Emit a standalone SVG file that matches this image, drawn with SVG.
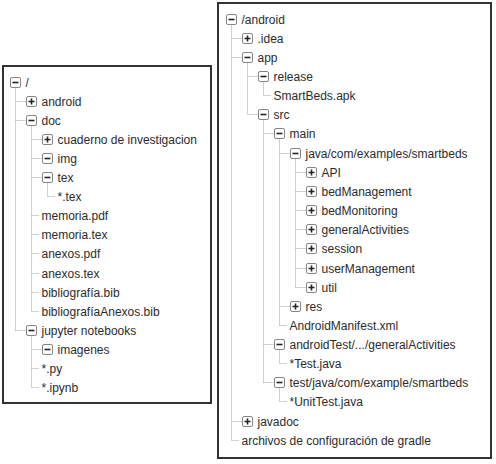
<svg xmlns="http://www.w3.org/2000/svg" xmlns:xlink="http://www.w3.org/1999/xlink" width="496" height="464" viewBox="0 0 496 464">
<style>
.frame{fill:#fff;stroke:#333;stroke-width:2}
.tb{fill:#fff;stroke:#858585;stroke-width:1}
.ts{stroke:#222;stroke-width:1.6;fill:none}
.ln{fill:none;stroke:#a3a3a3;stroke-width:1;stroke-dasharray:1 1}
text{font-family:"Liberation Sans",Arial,sans-serif;font-size:12px;fill:#2b2b2b}
</style>
<defs>
<g id="mn"><rect x="-5" y="-5" width="10" height="10" rx="1.5" class="tb"/><path d="M-3 0H3" class="ts"/></g>
<g id="pl"><rect x="-5" y="-5" width="10" height="10" rx="1.5" class="tb"/><path d="M-3 0H3M0 -3V3" class="ts"/></g>
</defs>
<rect width="496" height="464" fill="#fff"/>
<g id="frame-left"><rect class="frame" x="3" y="66" width="208" height="337"/></g>
<g id="frame-right"><rect class="frame" x="218" y="3" width="273" height="455"/></g>
<g id="connectors">
<path class="ln" d="M15.5 87.5V330.5M15.5 101.5H26.5M15.5 120.5H26.5M15.5 330.5H26.5
M31.5 125.5V311.5M31.5 139.5H42.5M31.5 158.5H42.5M31.5 177.5H42.5M31.5 215.5H39.5M31.5 234.5H39.5M31.5 253.5H39.5M31.5 273.5H39.5M31.5 292.5H39.5M31.5 311.5H39.5
M47.5 182.5V196.5M47.5 196.5H55.5
M31.5 335.5V387.5M31.5 349.5H42.5M31.5 368.5H39.5M31.5 387.5H39.5"/>
<path class="ln" d="M231.5 24.5V440.5M231.5 38.5H242.5M231.5 57.5H242.5M231.5 421.5H242.5M231.5 440.5H239.5
M247.5 62.5V114.5M247.5 76.5H258.5M247.5 114.5H258.5
M263.5 81.5V95.5M263.5 95.5H271.5
M263.5 119.5V382.5M263.5 133.5H274.5M263.5 344.5H274.5M263.5 382.5H274.5
M279.5 138.5V325.5M279.5 153.5H290.5M279.5 306.5H290.5M279.5 325.5H287.5
M295.5 158.5V287.5M295.5 172.5H306.5M295.5 191.5H306.5M295.5 210.5H306.5M295.5 229.5H306.5M295.5 248.5H306.5M295.5 268.5H306.5M295.5 287.5H306.5
M279.5 349.5V363.5M279.5 363.5H287.5
M279.5 387.5V401.5M279.5 401.5H287.5"/>
</g>
<g id="n-root"><use href="#mn" x="15.5" y="82.5"/><text x="25.5" y="86.5">/</text></g>
<g id="n-android"><use href="#pl" x="31.5" y="101.5"/><text x="41.5" y="105.5">android</text></g>
<g id="n-doc"><use href="#mn" x="31.5" y="120.5"/><text x="41.5" y="124.5">doc</text></g>
<g id="n-cuaderno"><use href="#pl" x="47.5" y="139.5"/><text x="57.5" y="143.5">cuaderno de investigacion</text></g>
<g id="n-img"><use href="#mn" x="47.5" y="158.5"/><text x="57.5" y="162.5">img</text></g>
<g id="n-tex"><use href="#mn" x="47.5" y="177.5"/><text x="57.5" y="181.5">tex</text></g>
<g id="n-startex"><text x="57.5" y="200.5">*.tex</text></g>
<g id="n-memoriapdf"><text x="41.5" y="219.5">memoria.pdf</text></g>
<g id="n-memoriatex"><text x="41.5" y="238.5">memoria.tex</text></g>
<g id="n-anexospdf"><text x="41.5" y="257.5">anexos.pdf</text></g>
<g id="n-anexostex"><text x="41.5" y="277.5">anexos.tex</text></g>
<g id="n-bib"><text x="41.5" y="296.5">bibliografía.bib</text></g>
<g id="n-bibanexos"><text x="41.5" y="315.5">bibliografíaAnexos.bib</text></g>
<g id="n-jupyter"><use href="#mn" x="31.5" y="330.5"/><text x="41.5" y="334.5">jupyter notebooks</text></g>
<g id="n-imagenes"><use href="#mn" x="47.5" y="349.5"/><text x="57.5" y="353.5">imagenes</text></g>
<g id="n-py"><text x="41.5" y="372.5">*.py</text></g>
<g id="n-ipynb"><text x="41.5" y="391.5">*.ipynb</text></g>

<g id="r-android"><use href="#mn" x="231.5" y="19.5"/><text x="241.5" y="23.5">/android</text></g>
<g id="r-idea"><use href="#pl" x="247.5" y="38.5"/><text x="257.5" y="42.5">.idea</text></g>
<g id="r-app"><use href="#mn" x="247.5" y="57.5"/><text x="257.5" y="61.5">app</text></g>
<g id="r-release"><use href="#mn" x="263.5" y="76.5"/><text x="273.5" y="80.5">release</text></g>
<g id="r-apk"><text x="273.5" y="99.5">SmartBeds.apk</text></g>
<g id="r-src"><use href="#mn" x="263.5" y="114.5"/><text x="273.5" y="118.5">src</text></g>
<g id="r-main"><use href="#mn" x="279.5" y="133.5"/><text x="289.5" y="137.5">main</text></g>
<g id="r-java"><use href="#mn" x="295.5" y="153.5"/><text x="305.5" y="157.5">java/com/examples/smartbeds</text></g>
<g id="r-api"><use href="#pl" x="311.5" y="172.5"/><text x="321.5" y="176.5">API</text></g>
<g id="r-bedman"><use href="#pl" x="311.5" y="191.5"/><text x="321.5" y="195.5">bedManagement</text></g>
<g id="r-bedmon"><use href="#pl" x="311.5" y="210.5"/><text x="321.5" y="214.5">bedMonitoring</text></g>
<g id="r-general"><use href="#pl" x="311.5" y="229.5"/><text x="321.5" y="233.5">generalActivities</text></g>
<g id="r-session"><use href="#pl" x="311.5" y="248.5"/><text x="321.5" y="252.5">session</text></g>
<g id="r-userman"><use href="#pl" x="311.5" y="268.5"/><text x="321.5" y="272.5">userManagement</text></g>
<g id="r-util"><use href="#pl" x="311.5" y="287.5"/><text x="321.5" y="291.5">util</text></g>
<g id="r-res"><use href="#pl" x="295.5" y="306.5"/><text x="305.5" y="310.5">res</text></g>
<g id="r-manifest"><text x="289.5" y="329.5">AndroidManifest.xml</text></g>
<g id="r-androidtest"><use href="#mn" x="279.5" y="344.5"/><text x="289.5" y="348.5">androidTest/.../generalActivities</text></g>
<g id="r-testjava"><text x="289.5" y="367.5">*Test.java</text></g>
<g id="r-test"><use href="#mn" x="279.5" y="382.5"/><text x="289.5" y="386.5">test/java/com/example/smartbeds</text></g>
<g id="r-unittest"><text x="289.5" y="405.5">*UnitTest.java</text></g>
<g id="r-javadoc"><use href="#pl" x="247.5" y="421.5"/><text x="257.5" y="425.5">javadoc</text></g>
<g id="r-gradle"><text x="241.5" y="444.5">archivos de configuración de gradle</text></g>
</svg>
